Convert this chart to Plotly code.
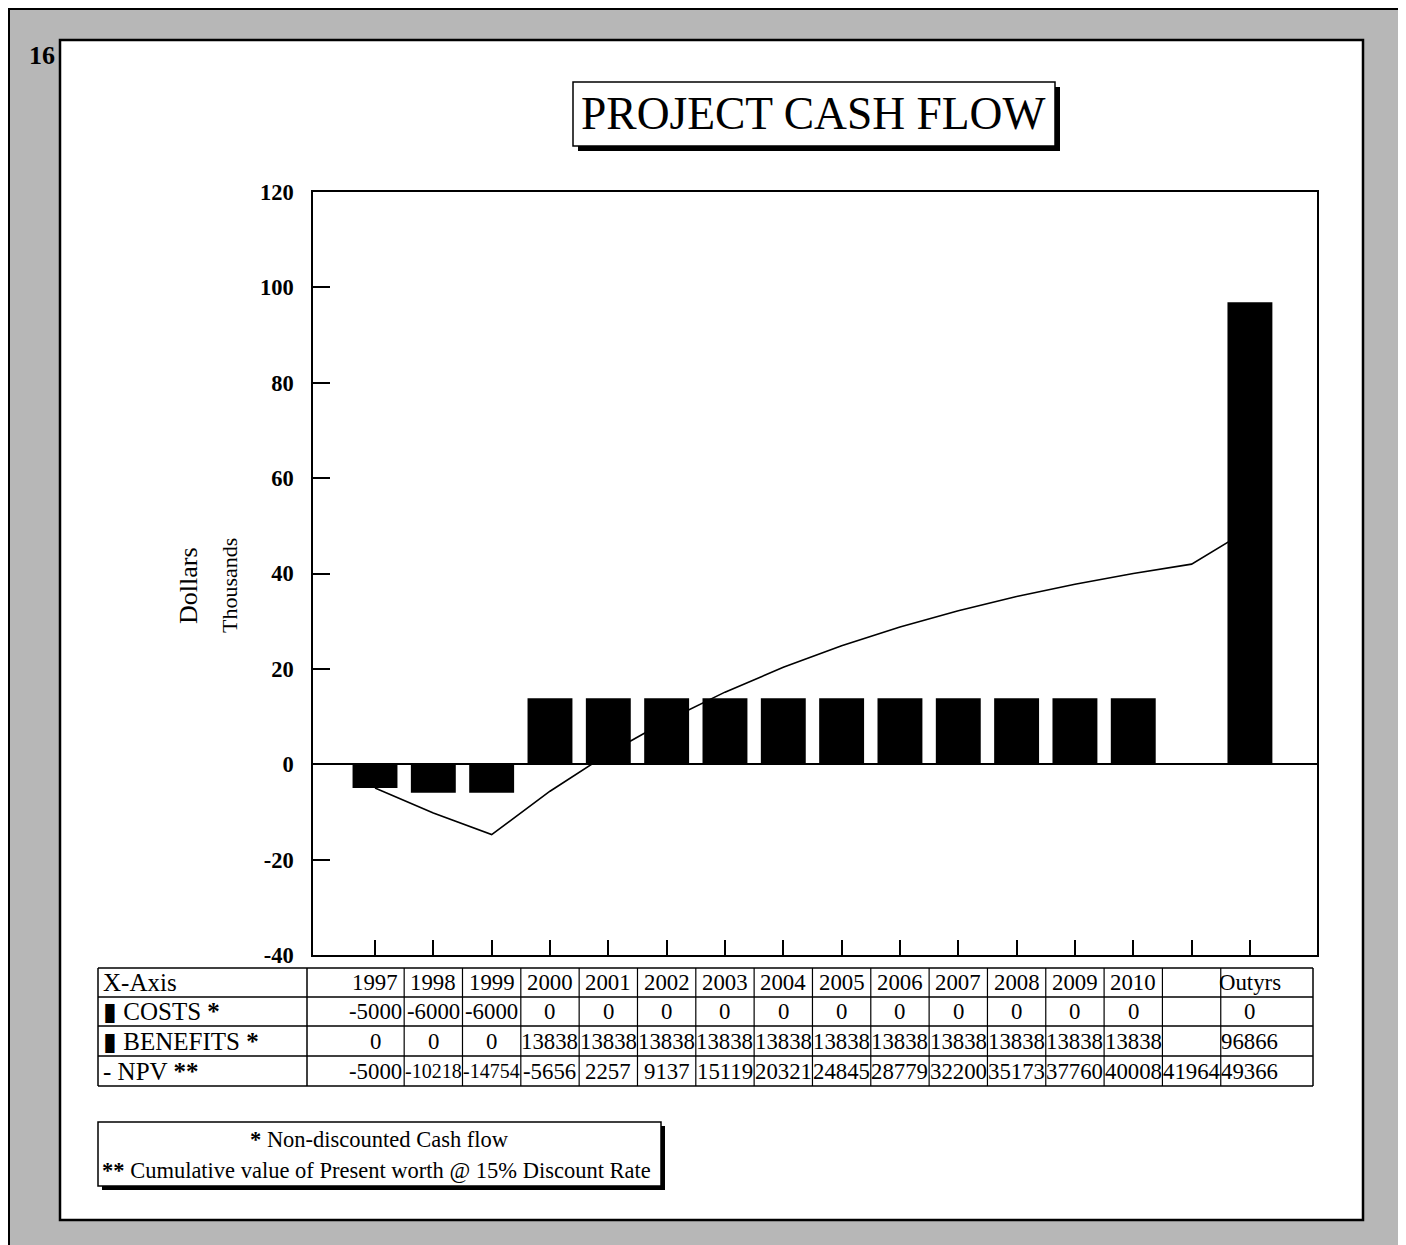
import plotly.graph_objects as go

# The page body has an 8px margin, so the figure is drawn 8px smaller and
# reference pixel positions are shifted by that offset.
OFF = 8
W, H = 1406 - OFF, 1245 - OFF

# ---------------- data ----------------
categories = ["1997", "1998", "1999", "2000", "2001", "2002", "2003", "2004",
              "2005", "2006", "2007", "2008", "2009", "2010", " ", "Outyrs"]
header_labels = ["1997", "1998", "1999", "2000", "2001", "2002", "2003", "2004",
                 "2005", "2006", "2007", "2008", "2009", "2010", "", "Outyrs"]
costs = [-5000, -6000, -6000, 0, 0, 0, 0, 0, 0, 0, 0, 0, 0, 0, None, 0]
benefits = [0, 0, 0, 13838, 13838, 13838, 13838, 13838, 13838, 13838, 13838,
            13838, 13838, 13838, None, 96866]
npv = [-5000, -10218, -14754, -5656, 2257, 9137, 15119, 20321, 24845, 28779,
       32200, 35173, 37760, 40008, 41964, 49366]
y_ticks = [-40, -20, 0, 20, 40, 60, 80, 100, 120]
y_ticktext = ["-40", "-20", "0", "20", "40", "60", "80", "100", "120"]
row_labels = ["X-Axis", "\u25ae COSTS <b>*</b>", "\u25ae BENEFITS <b>*</b>", "- NPV <b>**</b>"]

SERIF = "Liberation Serif, Times New Roman, serif"


def fx(x):
    return (x - OFF) / W


def fy(y):
    return 1 - (y - OFF) / H


def thousands(vals):
    return [None if v is None else v / 1000 for v in vals]


fig = go.Figure()

fig.add_trace(go.Scatter(
    x=categories, y=thousands(npv), mode="lines",
    line=dict(color="black", width=1.6), showlegend=False, hoverinfo="skip"))
fig.add_trace(go.Bar(
    x=categories, y=thousands(costs), marker=dict(color="black", line=dict(width=0)),
    width=0.77, showlegend=False))
fig.add_trace(go.Bar(
    x=categories, y=thousands(benefits), marker=dict(color="black", line=dict(width=0)),
    width=0.77, showlegend=False))

shapes = []
# outer frame (gray band)
shapes.append(dict(type="rect", xref="paper", yref="paper",
                   x0=fx(9), x1=fx(1399), y0=fy(1262), y1=fy(9),
                   fillcolor="#b7b7b7", line=dict(color="black", width=2), layer="below"))
shapes.append(dict(type="line", xref="paper", yref="paper",
                   x0=fx(1403), x1=fx(1403), y0=fy(1262), y1=fy(12),
                   line=dict(color="black", width=1.5), layer="below"))
# inner white panel
shapes.append(dict(type="rect", xref="paper", yref="paper",
                   x0=fx(60), x1=fx(1363), y0=fy(1220), y1=fy(40),
                   fillcolor="white", line=dict(color="black", width=2.5), layer="below"))

# title box with shadow
shapes.append(dict(type="rect", xref="paper", yref="paper",
                   x0=fx(578), x1=fx(1060), y0=fy(151), y1=fy(87),
                   fillcolor="black", line=dict(width=0), layer="below"))
shapes.append(dict(type="rect", xref="paper", yref="paper",
                   x0=fx(573), x1=fx(1055), y0=fy(146), y1=fy(82),
                   fillcolor="white", line=dict(color="black", width=1.5), layer="below"))

# footnote box with shadow
shapes.append(dict(type="rect", xref="paper", yref="paper",
                   x0=fx(102), x1=fx(665), y0=fy(1190), y1=fy(1126),
                   fillcolor="black", line=dict(width=0), layer="below"))
shapes.append(dict(type="rect", xref="paper", yref="paper",
                   x0=fx(98), x1=fx(661), y0=fy(1186), y1=fy(1122),
                   fillcolor="white", line=dict(color="black", width=1.5), layer="below"))

# data table grid
row_edges = [968, 997, 1026, 1056, 1086]
tab_left, tab_label_right, tab_right = 98, 307, 1313
for ry in row_edges:
    shapes.append(dict(type="line", xref="paper", yref="paper",
                       x0=fx(tab_left), x1=fx(tab_right), y0=fy(ry), y1=fy(ry),
                       line=dict(color="black", width=1.5)))
for vx in [tab_left, tab_label_right, tab_right]:
    shapes.append(dict(type="line", xref="paper", yref="paper",
                       x0=fx(vx), x1=fx(vx), y0=fy(row_edges[0]), y1=fy(row_edges[-1]),
                       line=dict(color="black", width=1.5)))
for k in range(len(categories) - 1):
    shapes.append(dict(type="line", xref="x", yref="paper",
                       x0=k + 0.5, x1=k + 0.5, y0=fy(row_edges[0]), y1=fy(row_edges[-1]),
                       line=dict(color="black", width=1.2)))

annotations = []
# page number
annotations.append(dict(text="<b>16</b>", xref="paper", yref="paper", x=fx(42), y=fy(56),
                        showarrow=False, font=dict(family=SERIF, size=26, color="black"),
                        xanchor="center", yanchor="middle"))
# title
annotations.append(dict(text="PROJECT CASH FLOW", xref="paper", yref="paper",
                        x=fx(813), y=fy(113), showarrow=False,
                        font=dict(family=SERIF, size=45.5, color="black"),
                        xanchor="center", yanchor="middle"))
# axis titles
annotations.append(dict(text="Dollars", xref="paper", yref="paper", x=fx(188), y=fy(586),
                        showarrow=False, textangle=-90,
                        font=dict(family=SERIF, size=26, color="black"),
                        xanchor="center", yanchor="middle"))
annotations.append(dict(text="Thousands", xref="paper", yref="paper", x=fx(230), y=fy(585),
                        showarrow=False, textangle=-90,
                        font=dict(family=SERIF, size=22, color="black"),
                        xanchor="center", yanchor="middle"))

# table text
row_centers = [(row_edges[i] + row_edges[i + 1]) / 2 for i in range(4)]
for lbl, ry in zip(row_labels, row_centers):
    annotations.append(dict(text=lbl, xref="paper", yref="paper", x=fx(101), y=fy(ry),
                            showarrow=False, font=dict(family=SERIF, size=25, color="black"),
                            xanchor="left", yanchor="middle"))


def fmt(v):
    return "" if v is None else str(v)


rows = [header_labels, [fmt(v) for v in costs], [fmt(v) for v in benefits],
        [fmt(v) for v in npv]]
for r, ry in zip(rows, row_centers):
    for i, txt in enumerate(r):
        if txt == "":
            continue
        size = 20 if (len(txt) > 5 and txt.startswith("-")) else 22.8
        annotations.append(dict(text=txt, xref="x", yref="paper", x=i, y=fy(ry),
                                showarrow=False,
                                font=dict(family=SERIF, size=size, color="black"),
                                xanchor="center", yanchor="middle"))

# footnotes
annotations.append(dict(text="<b>*</b> Non-discounted Cash flow", xref="paper", yref="paper",
                        x=fx(379), y=fy(1139), showarrow=False,
                        font=dict(family=SERIF, size=22.5, color="black"),
                        xanchor="center", yanchor="middle"))
annotations.append(dict(text="<b>**</b> Cumulative value of Present worth @ 15% Discount Rate",
                        xref="paper", yref="paper",
                        x=fx(100), y=fy(1170), showarrow=False,
                        font=dict(family=SERIF, size=22.5, color="black"),
                        xanchor="left", yanchor="middle"))

fig.update_layout(
    width=W, height=H,
    margin=dict(l=0, r=0, t=0, b=0, pad=0, autoexpand=False),
    paper_bgcolor="white", plot_bgcolor="rgba(0,0,0,0)",
    barmode="relative",
    bargap=0.2,
    font=dict(family=SERIF, color="black"),
    shapes=shapes,
    annotations=annotations,
    xaxis=dict(
        type="category", categoryorder="array", categoryarray=categories,
        domain=[fx(313), fx(1317)],
        range=[-1.063, 16.15],
        automargin=False,
        showticklabels=False, ticks="inside", ticklen=15, tickwidth=2, tickcolor="black",
        showline=True, linecolor="black", linewidth=1.5, mirror=True,
        showgrid=False, zeroline=False,
    ),
    yaxis=dict(
        domain=[fy(955), fy(192)],
        range=[-40, 120],
        automargin=False,
        tickmode="array", tickvals=y_ticks, ticktext=y_ticktext,
        ticks="inside", ticklen=17, tickwidth=2, tickcolor="black",
        tickfont=dict(family=SERIF, size=22.5, color="black", weight="bold"),
        ticklabelstandoff=13,
        showline=True, linecolor="black", linewidth=1.5, mirror=True,
        showgrid=False, zeroline=True, zerolinecolor="black", zerolinewidth=1.5,
    ),
)

fig.write_html("out.html")
